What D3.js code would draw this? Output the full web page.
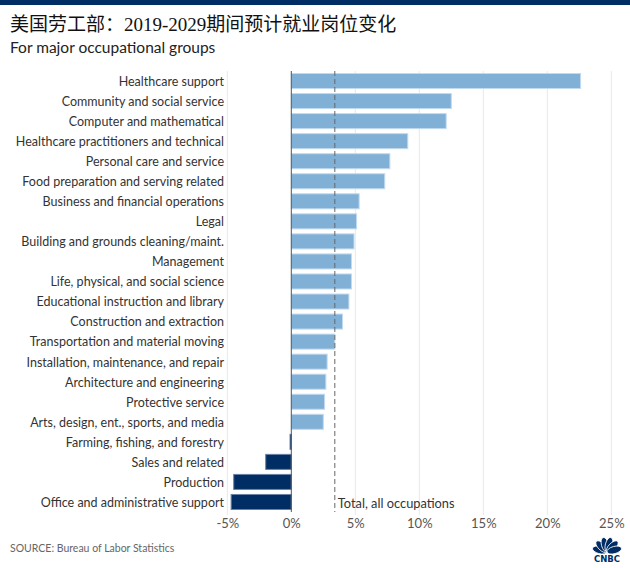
<!DOCTYPE html>
<html><head><meta charset="utf-8">
<script src="https://cdn.jsdelivr.net/npm/d3@7"></script>
<style>body{margin:0;background:#fff}svg{display:block}</style>
</head><body><svg id="c" width="630" height="568"></svg>
<script>
const categories = ["Healthcare support","Community and social service","Computer and mathematical","Healthcare practitioners and technical","Personal care and service","Food preparation and serving related","Business and financial operations","Legal","Building and grounds cleaning/maint.","Management","Life, physical, and social science","Educational instruction and library","Construction and extraction","Transportation and material moving","Installation, maintenance, and repair","Architecture and engineering","Protective service","Arts, design, ent., sports, and media","Farming, fishing, and forestry","Sales and related","Production","Office and administrative support"];
const values = [22.6,12.5,12.1,9.1,7.7,7.3,5.3,5.1,4.9,4.7,4.7,4.5,4.0,3.4,2.8,2.7,2.6,2.5,-0.1,-2.0,-4.5,-4.7];
const totalValue = 3.4;
const tickValues = [-5,0,5,10,15,20,25];
const title = "美国劳工部：2019-2029期间预计就业岗位变化";
const subtitle = "For major occupational groups";
const source = "SOURCE: Bureau of Labor Statistics";
const totalLabel = "Total, all occupations";

const svg = d3.select("#c");
const sans = "Lato, 'Open Sans', sans-serif";
svg.append("rect").attr("x",0).attr("y",0).attr("width",630).attr("height",5).attr("fill","#002d64");
svg.append("text").attr("x",10).attr("y",31).attr("font-family","'Liberation Serif','Noto Sans CJK SC',serif").attr("font-size",19).attr("fill","#111").text(title);
svg.append("text").attr("x",10).attr("y",53).attr("font-family",sans).attr("font-size",15.5).attr("fill","#222").text(subtitle);

const x = d3.scaleLinear().domain([-5,25]).range([227.3,611.3]);
const y = d3.scaleBand().domain(categories).range([71,512]).paddingInner(0.25).paddingOuter(0.125);

const g = svg.append("g");
g.selectAll("line.grid").data(tickValues.filter(d=>d!==0)).join("line")
  .attr("x1",d=>x(d)).attr("x2",d=>x(d)).attr("y1",71).attr("y2",515)
  .attr("stroke","#e8e8e8").attr("stroke-width",1);

g.selectAll("rect.bar").data(categories).join("rect")
  .attr("x",(d,i)=>x(Math.min(0,values[i])))
  .attr("width",(d,i)=>Math.max(1.5,Math.abs(x(values[i])-x(0))))
  .attr("y",d=>y(d)).attr("height",y.bandwidth())
  .attr("fill",(d,i)=>values[i]<0?"#002d64":"#80b0d6")
  .attr("stroke",(d,i)=>values[i]<0?"#6a82a6":"#c2daef").attr("stroke-width",1);

g.append("line").attr("x1",x(0)).attr("x2",x(0)).attr("y1",71).attr("y2",512).attr("stroke","#555").attr("stroke-width",1);
g.append("line").attr("x1",x(totalValue)).attr("x2",x(totalValue)).attr("y1",71).attr("y2",512)
  .attr("stroke","#666").attr("stroke-width",1).attr("stroke-dasharray","5,3");
g.append("text").attr("x",x(totalValue)+3).attr("y",508).attr("font-family",sans).attr("font-size",12.8).attr("fill","#333").text(totalLabel);

g.selectAll("text.cat").data(categories).join("text")
  .attr("x",224).attr("y",d=>y(d)+y.bandwidth()/2+0.5).attr("dy","0.35em")
  .attr("text-anchor","end").attr("font-family",sans).attr("font-size",12.5).attr("fill","#333").text(d=>d);

const axis = d3.axisBottom(x).tickValues(tickValues).tickFormat(d=>d+"%").tickSize(0).tickPadding(0);
const ax = svg.append("g").attr("transform","translate(0,519)").call(axis);
ax.select(".domain").remove();
ax.selectAll("text").attr("font-family",sans).attr("font-size",13).attr("fill","#555").attr("dy","0.71em");

svg.append("text").attr("x",10).attr("y",552).attr("font-family",sans).attr("font-size",10.5).attr("fill","#666").text(source);

// CNBC peacock logo
const logo = svg.append("g").attr("transform","translate(607,552)");
const angles = [-75,-45,-15,15,45,75];
logo.selectAll("ellipse").data(angles).join("ellipse")
  .attr("cx",0).attr("cy",-7.5).attr("rx",3.6).attr("ry",7.5)
  .attr("transform",d=>`rotate(${d})`).attr("fill","#002d64").attr("stroke","#fff").attr("stroke-width",0.8);
logo.append("text").attr("x",0).attr("y",9.5).attr("text-anchor","middle").attr("font-family","'DejaVu Sans',sans-serif")
  .attr("font-weight","bold").attr("font-size",8.5).attr("fill","#002d64").text("CNBC");
</script></body></html>
